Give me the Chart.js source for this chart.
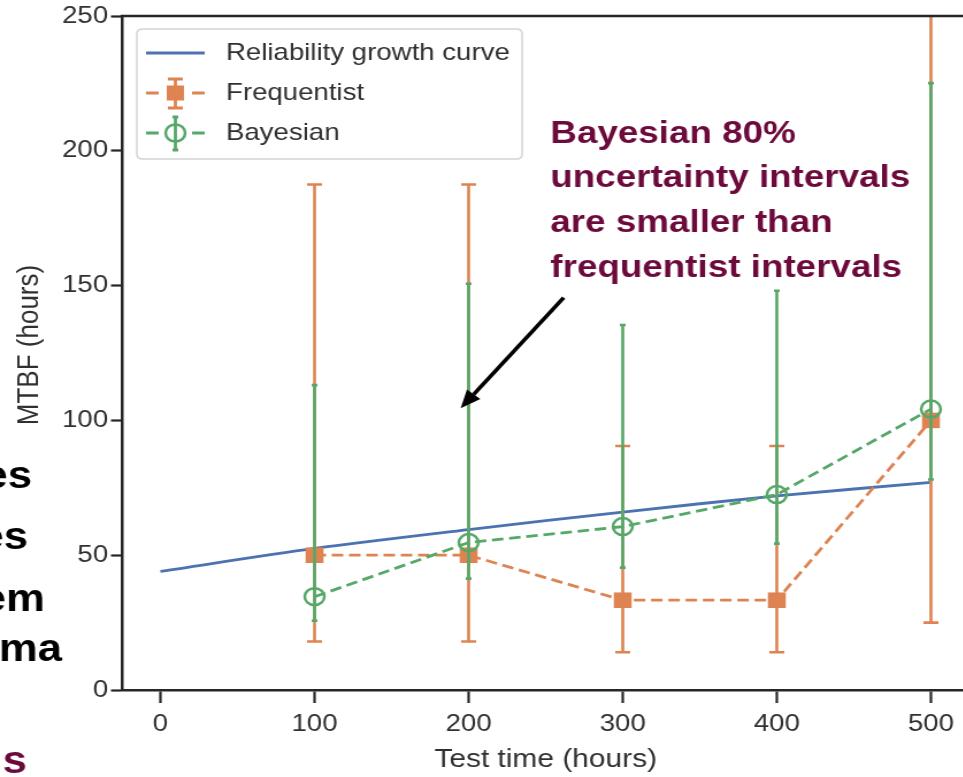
<!DOCTYPE html>
<html><head><meta charset="utf-8">
<script src="https://cdn.jsdelivr.net/npm/chart.js@4.4.1/dist/chart.umd.min.js"></script>
<style>
html,body{margin:0;padding:0;width:963px;height:777px;overflow:hidden;background:#fff;}
#wrap{position:absolute;left:0;top:0;transform:scaleX(1.15);transform-origin:0 0;}
</style></head><body>
<div id="wrap"><canvas id="c" width="854" height="777"></canvas></div>
<script>
// ---- data ----
const growthTimes = [0, 100, 200, 300, 400, 500];
const growthMTBF  = [44, 52.5, 59.5, 66, 72, 77];
const testTimes   = [100, 200, 300, 400, 500];
const freqMTBF    = [50, 50, 33.3, 33.3, 100];
const freqLower   = [18, 18, 14, 14, 25];
const freqUpper   = [187.5, 187.5, 90.5, 90.5, 400];
const bayesMTBF   = [34.6, 54.7, 60.6, 72.5, 104.2];
const bayesLower  = [25.7, 41.3, 45.4, 54.3, 78.1];
const bayesUpper  = [113.1, 150.7, 135.4, 148.1, 225.1];
const xTicks = [0, 100, 200, 300, 400, 500];
const yTicks = [0, 50, 100, 150, 200, 250];
const seriesNames = ['Reliability growth curve', 'Frequentist', 'Bayesian'];
const annotationLines = ['Bayesian 80%', 'uncertainty intervals', 'are smaller than', 'frequentist intervals'];
const xTitle = 'Test time (hours)';
const yTitle = 'MTBF (hours)';

const FONT = "'Liberation Sans', Arial, Helvetica, sans-serif";
const BLUE = '#4c72b0', ORANGE = '#dd8452', GREEN = '#55a868', AXIS = '#262626', TXT = '#303030';
const MAROON = '#6d0a3c';

const pts = (xs, ys) => xs.map((v, i) => ({x: v, y: ys[i]}));

const errorBarPlugin = {
  id: 'errbars',
  beforeDatasetDraw(chart, args) {
    const ds = chart.data.datasets[args.index];
    if (!ds.errLow) return;
    const {ctx, chartArea: a, scales: {x, y}} = chart;
    ctx.save();
    ctx.beginPath(); ctx.rect(a.left, a.top, a.right - a.left, a.bottom - a.top); ctx.clip();
    ctx.strokeStyle = ds.borderColor; ctx.lineWidth = 2.6; ctx.setLineDash([]);
    ds.data.forEach((p, i) => {
      const px = x.getPixelForValue(p.x);
      const y1 = y.getPixelForValue(ds.errLow[i]);
      const y2 = y.getPixelForValue(ds.errHigh[i]);
      const c = ds.capHalf;
      ctx.beginPath();
      ctx.moveTo(px, y1); ctx.lineTo(px, y2);
      ctx.moveTo(px - c, y1); ctx.lineTo(px + c, y1);
      ctx.moveTo(px - c, y2); ctx.lineTo(px + c, y2);
      ctx.stroke();
    });
    ctx.restore();
  }
};

const decorPlugin = {
  id: 'decor',
  afterDatasetsDraw(chart) {
    const {ctx, chartArea: a} = chart;
    ctx.save();
    ctx.strokeStyle = AXIS; ctx.lineWidth = 2.5;
    ctx.beginPath();
    ctx.moveTo(a.left - 1.2, a.top); ctx.lineTo(a.right, a.top); ctx.lineTo(a.right, a.bottom);
    ctx.stroke();
    ctx.restore();
  },
  afterDraw(chart) {
    const {ctx, scales: {x, y}} = chart;
    ctx.save();
    // y axis title
    ctx.save();
    ctx.translate(26, 345); ctx.rotate(-Math.PI / 2);
    ctx.fillStyle = TXT; ctx.font = '26px ' + FONT; ctx.textAlign = 'center'; ctx.textBaseline = 'middle';
    ctx.fillText(yTitle, 0, 0);
    ctx.restore();

    // legend box
    const bx = 119, by = 29, bw = 335, bh = 130, r = 5;
    ctx.beginPath();
    ctx.moveTo(bx + r, by); ctx.lineTo(bx + bw - r, by); ctx.quadraticCurveTo(bx + bw, by, bx + bw, by + r);
    ctx.lineTo(bx + bw, by + bh - r); ctx.quadraticCurveTo(bx + bw, by + bh, bx + bw - r, by + bh);
    ctx.lineTo(bx + r, by + bh); ctx.quadraticCurveTo(bx, by + bh, bx, by + bh - r);
    ctx.lineTo(bx, by + r); ctx.quadraticCurveTo(bx, by, bx + r, by);
    ctx.closePath();
    ctx.fillStyle = 'rgba(255,255,255,0.85)'; ctx.fill();
    ctx.strokeStyle = '#d4d4d4'; ctx.lineWidth = 1.5; ctx.stroke();

    const lx1 = 127, lx2 = 178, lc = 152.5;
    ctx.strokeStyle = BLUE; ctx.lineWidth = 2.8;
    ctx.beginPath(); ctx.moveTo(lx1, 53); ctx.lineTo(lx2, 53); ctx.stroke();
    ctx.strokeStyle = ORANGE; ctx.lineWidth = 2.8;
    ctx.beginPath();
    ctx.moveTo(lx1, 93); ctx.lineTo(lx1 + 11, 93); ctx.moveTo(lx2 - 11, 93); ctx.lineTo(lx2, 93);
    ctx.moveTo(lc, 79); ctx.lineTo(lc, 108);
    ctx.moveTo(lc - 6.5, 79); ctx.lineTo(lc + 6.5, 79);
    ctx.moveTo(lc - 6.5, 108); ctx.lineTo(lc + 6.5, 108);
    ctx.stroke();
    ctx.fillStyle = ORANGE; ctx.fillRect(lc - 7.5, 93 - 7.5, 15, 15);
    ctx.strokeStyle = GREEN;
    ctx.beginPath();
    ctx.moveTo(lx1, 133); ctx.lineTo(lx1 + 11, 133); ctx.moveTo(lx2 - 11, 133); ctx.lineTo(lx2, 133);
    ctx.moveTo(lc, 117); ctx.lineTo(lc, 150);
    ctx.moveTo(lc - 2.5, 117); ctx.lineTo(lc + 2.5, 117);
    ctx.moveTo(lc - 2.5, 150); ctx.lineTo(lc + 2.5, 150);
    ctx.stroke();
    ctx.lineWidth = 2.5;
    ctx.beginPath(); ctx.arc(lc, 133, 8.5, 0, Math.PI * 2); ctx.stroke();
    ctx.fillStyle = TXT; ctx.font = '24px ' + FONT; ctx.textBaseline = 'middle'; ctx.textAlign = 'left';
    ctx.fillText(seriesNames[0], 196.5, 53);
    ctx.fillText(seriesNames[1], 196.5, 93);
    ctx.fillText(seriesNames[2], 196.5, 133);

    // annotation text
    ctx.fillStyle = MAROON; ctx.font = 'bold 32px ' + FONT; ctx.textBaseline = 'alphabetic';
    const tx = x.getPixelForValue(253), ty = y.getPixelForValue(203);
    annotationLines.forEach((t, i) => ctx.fillText(t, tx, ty + i * 44.7));

    // arrow
    const sx = x.getPixelForValue(261.7), sy = y.getPixelForValue(145.5);
    const ex = x.getPixelForValue(194.8), ey = y.getPixelForValue(104.5);
    const ang = Math.atan2(ey - sy, ex - sx), hl = 18, hw = 7.5;
    const bxh = ex - hl * Math.cos(ang), byh = ey - hl * Math.sin(ang);
    ctx.strokeStyle = '#000'; ctx.fillStyle = '#000'; ctx.lineWidth = 3.6;
    ctx.beginPath(); ctx.moveTo(sx, sy); ctx.lineTo(bxh, byh); ctx.stroke();
    ctx.beginPath();
    ctx.moveTo(ex, ey);
    ctx.lineTo(bxh + hw * Math.sin(ang), byh - hw * Math.cos(ang));
    ctx.lineTo(bxh - hw * Math.sin(ang), byh + hw * Math.cos(ang));
    ctx.closePath(); ctx.fill();

    // slide text fragments at the left edge
    ctx.font = 'bold 38px ' + FONT; ctx.textAlign = 'right'; ctx.fillStyle = '#000';
    ctx.fillText(':', 3, 303);
    ctx.fillText('es', 27.8, 488);
    ctx.fillText('es', 24.3, 549);
    ctx.fillText('em', 39, 611);
    ctx.fillText('ma', 54, 661);
    ctx.fillStyle = MAROON;
    ctx.fillText('s', 23.5, 773);
    ctx.restore();
  }
};

Chart.defaults.font.family = FONT;
new Chart(document.getElementById('c'), {
  type: 'line',
  data: {
    datasets: [
      { label: seriesNames[0], data: pts(growthTimes, growthMTBF), borderColor: BLUE, borderWidth: 2.8,
        pointRadius: 0, tension: 0.3, order: 3 },
      { label: seriesNames[1], data: pts(testTimes, freqMTBF), borderColor: ORANGE, backgroundColor: ORANGE,
        borderWidth: 2.8, borderDash: [10, 5], pointStyle: 'rect', pointRadius: 11, pointBorderWidth: 0,
        pointBackgroundColor: ORANGE, errLow: freqLower, errHigh: freqUpper, capHalf: 6.5, order: 2 },
      { label: seriesNames[2], data: pts(testTimes, bayesMTBF), borderColor: GREEN, backgroundColor: 'rgba(0,0,0,0)',
        borderWidth: 2.8, borderDash: [10, 5], pointStyle: 'circle', pointRadius: 8.5, pointBorderWidth: 2.5,
        pointBorderColor: GREEN, pointBackgroundColor: 'rgba(0,0,0,0)', errLow: bayesLower, errHigh: bayesUpper,
        capHalf: 2.5, order: 1 }
    ]
  },
  options: {
    responsive: false, animation: false, devicePixelRatio: 1,
    layout: { padding: { left: 0, right: 3.3, top: 16, bottom: 0 } },
    plugins: { legend: { display: false }, tooltip: { enabled: false } },
    scales: {
      x: {
        type: 'linear', min: -25, max: 525,
        afterBuildTicks: s => { s.ticks = xTicks.map(v => ({ value: v })); },
        afterFit: s => { s.height = 87; s.paddingLeft = 0; s.paddingRight = 0; },
        grid: { drawOnChartArea: false, drawTicks: true, tickLength: 13, tickWidth: 2.2, tickColor: AXIS, color: AXIS },
        border: { display: true, color: AXIS, width: 2.5 },
        ticks: { color: TXT, font: { size: 24 }, padding: 7, maxRotation: 0 },
        title: { display: true, text: xTitle, color: TXT, font: { size: 26 }, padding: { top: 0, bottom: 2 } }
      },
      y: {
        type: 'linear', min: 0, max: 250,
        afterBuildTicks: s => { s.ticks = yTicks.map(v => ({ value: v })); },
        afterFit: s => { s.width = 106; s.paddingTop = 0; s.paddingBottom = 0; },
        grid: { drawOnChartArea: false, drawTicks: true, tickLength: 9.5, tickWidth: 2.2, tickColor: AXIS, color: AXIS },
        border: { display: true, color: AXIS, width: 2.5 },
        ticks: { color: TXT, font: { size: 24 }, padding: 2.5 },
        title: { display: false }
      }
    }
  },
  plugins: [errorBarPlugin, decorPlugin]
});
</script>
</body></html>
